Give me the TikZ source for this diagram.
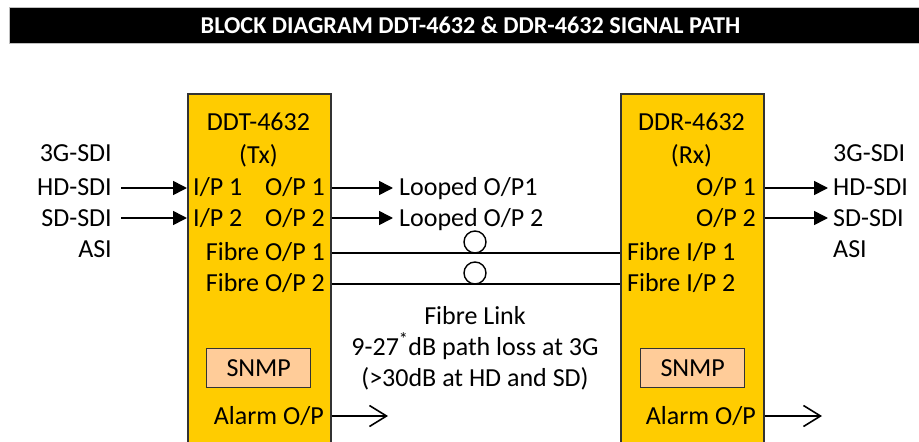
\documentclass[tikz,border=0pt]{standalone}
\usepackage{fontspec}
\setmainfont{Carlito}
\usetikzlibrary{arrows.meta}
\definecolor{boxgold}{HTML}{FFCC00}
\definecolor{peach}{HTML}{FFCC99}
\begin{document}
\begin{tikzpicture}[x=1pt,y=-1pt,
  txt/.style={inner sep=0pt, font=\fontsize{26}{30}\selectfont},
  unit/.style={draw=black!80, line width=1.6pt, fill=boxgold, inner sep=0pt, anchor=north west, minimum width=143pt, minimum height=380pt},
  snmpbox/.style={draw=black!80, line width=1.4pt, fill=peach, inner sep=0pt, anchor=north west, minimum width=104pt, minimum height=39pt},
  conn/.style={line width=1.6pt},
  fillarr/.style={conn, -{Triangle[length=14pt,width=14pt]}},
  openarr/.style={conn, -{Straight Barb[length=17pt,width=21pt]}},
  loop/.style={draw, line width=1.4pt, circle, minimum size=22pt, inner sep=0pt}]
\useasboundingbox (0,0) rectangle (919,442);
\clip (0,0) rectangle (919,442);
\fill[white] (0,0) rectangle (919,442);
% title
\node[fill=black, draw=gray!50, line width=1pt, anchor=north west, minimum width=911pt, minimum height=36pt, inner sep=0pt] (bar) at (9,7) {};
\node[inner sep=0pt, text=white, font=\fontsize{24.2}{28}\selectfont\bfseries] (title) at (470.5,25) {BLOCK DIAGRAM DDT-4632 \& DDR-4632 SIGNAL PATH};
% units
\node[unit] (tx) at (187,93) {};
\node[unit] (rx) at (620,93) {};
% Tx texts
\node[txt, anchor=base] (txname) at (258.5,130) {DDT-4632};
\node[txt, anchor=base] (txtag) at (258.5,163) {(Tx)};
\node[txt, anchor=base west] (ip1) at (193,195) {I/P 1};
\node[txt, anchor=base west] (ip2) at (193,226) {I/P 2};
\node[txt, anchor=base east] (op1) at (325,195) {O/P 1};
\node[txt, anchor=base east] (op2) at (325,226) {O/P 2};
\node[txt, anchor=base east] (fo1) at (325,260) {Fibre O/P 1};
\node[txt, anchor=base east] (fo2) at (325,291) {Fibre O/P 2};
\node[snmpbox] (snmp1) at (206,348) {};
\node[txt] (snmp1t) at (snmp1.center) {SNMP};
\node[txt, anchor=base east] (al1) at (324,424) {Alarm O/P};
% Rx texts
\node[txt, anchor=base] (rxname) at (691.5,130) {DDR-4632};
\node[txt, anchor=base] (rxtag) at (691.5,163) {(Rx)};
\node[txt, anchor=base east] (rop1) at (756,195) {O/P 1};
\node[txt, anchor=base east] (rop2) at (756,226) {O/P 2};
\node[txt, anchor=base west] (fi1) at (627,260) {Fibre I/P 1};
\node[txt, anchor=base west] (fi2) at (627,291) {Fibre I/P 2};
\node[snmpbox] (snmp2) at (640,348) {};
\node[txt] (snmp2t) at (snmp2.center) {SNMP};
\node[txt, anchor=base east] (al2) at (756,424) {Alarm O/P};
% left labels
\node[txt, anchor=base east] (l3g) at (112,161) {3G-SDI};
\node[txt, anchor=base east] (lhd) at (112,195) {HD-SDI};
\node[txt, anchor=base east] (lsd) at (112,226) {SD-SDI};
\node[txt, anchor=base east] (lasi) at (112,257) {ASI};
% right labels
\node[txt, anchor=base west] (r3g) at (833,161) {3G-SDI};
\node[txt, anchor=base west] (rhd) at (833,195) {HD-SDI};
\node[txt, anchor=base west] (rsd) at (833,226) {SD-SDI};
\node[txt, anchor=base west] (rasi) at (833,257) {ASI};
% looped outputs
\node[txt, anchor=base west] (lo1) at (399,195) {Looped O/P1};
\node[txt, anchor=base west] (lo2) at (399,226) {Looped O/P 2};
% fibre link text
\node[txt, anchor=base] (fl1) at (475,324) {Fibre Link};
\node[txt, anchor=base] (fl2) at (475,355) {9-27\textsuperscript{*}dB path loss at 3G};
\node[txt, anchor=base] (fl3) at (475,386) {(>30dB at HD and SD)};
% loops
\node[loop] (c1) at (475,242) {};
\node[loop] (c2) at (475,273) {};
% connector start/end coordinates
\coordinate (a1) at (121,188);
\coordinate (a2) at (121,218);
\coordinate (b1) at (393,188);
\coordinate (b2) at (393,218);
\coordinate (d1) at (828,188);
\coordinate (d2) at (828,218);
\coordinate (e1) at (388,416);
\coordinate (e2) at (822,416);
% connectors
\draw[fillarr] (a1) -- (tx.west |- a1);
\draw[fillarr] (a2) -- (tx.west |- a2);
\draw[fillarr] (tx.east |- b1) -- (b1);
\draw[fillarr] (tx.east |- b2) -- (b2);
\draw[conn] (tx.east |- 0,253) -- (rx.west |- 0,253);
\draw[conn] (tx.east |- 0,284) -- (rx.west |- 0,284);
\draw[fillarr] (rx.east |- d1) -- (d1);
\draw[fillarr] (rx.east |- d2) -- (d2);
\draw[openarr] (tx.east |- e1) -- (e1);
\draw[openarr] (rx.east |- e2) -- (e2);
\end{tikzpicture}
\end{document}
